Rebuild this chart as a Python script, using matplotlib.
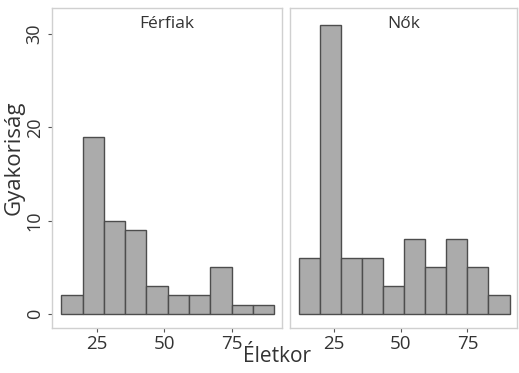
import numpy as np
import matplotlib.pyplot as plt

plt.rcParams['font.family'] = ['Open Sans', 'DejaVu Sans']

# életkor-osztályok (bal szélek) és gyakoriságok nemenként
bin_edges = [11.8, 19.7, 27.6, 35.5, 43.4, 51.3, 59.2, 67.1, 75.0, 82.9, 90.8]
ferfiak = [2, 19, 10, 9, 3, 2, 2, 5, 1, 1]
nok = [6, 31, 6, 6, 3, 8, 5, 8, 5, 2]
panels = ["Férfiak", "Nők"]

fig = plt.figure(figsize=(5.19, 3.73), dpi=100)
W, H = 519, 373
boxes = [(52, 8, 282, 328), (290, 8, 517, 328)]

edges = np.array(bin_edges)
widths = np.diff(edges)
for (x0, y0, x1, y1), title, counts in zip(boxes, panels, [ferfiak, nok]):
    ax = fig.add_axes([x0 / W, 1 - y1 / H, (x1 - x0) / W, (y1 - y0) / H])
    ax.bar(edges[:-1], counts, width=widths, align='edge',
           color='#ababab', edgecolor='#4d4d4d', linewidth=1.0)
    ax.set_xlim(8.4, 93.6)
    ax.set_ylim(-1.5, 32.8)
    ax.set_xticks([25, 50, 75])
    ax.set_yticks([0, 10, 20, 30])
    ax.tick_params(length=3, width=0.8, color='#555555', labelsize=13.5,
                   labelcolor='#333333', pad=2)
    ax.tick_params(axis='y', labelsize=13, pad=3)
    for s in ax.spines.values():
        s.set_color('#d0d0d0')
        s.set_linewidth(1.0)
    ax.text(0.5, 0.975, title, transform=ax.transAxes, ha='center', va='top',
            fontsize=12.5, color='#333333')
    if title == "Férfiak":
        for lab in ax.get_yticklabels():
            lab.set_rotation(90)
            lab.set_va('center')
    else:
        ax.tick_params(axis='y', length=0)
        ax.set_yticklabels([])

fig.text(14 / W, 1 - 158 / H, "Gyakoriság", rotation=90, ha='center',
         va='center', fontsize=16, color='#333333')
fig.text(277 / W, 1 - 356 / H, "Életkor", ha='center', va='center',
         fontsize=15, color='#333333')

fig.savefig("out.png", dpi=100)
